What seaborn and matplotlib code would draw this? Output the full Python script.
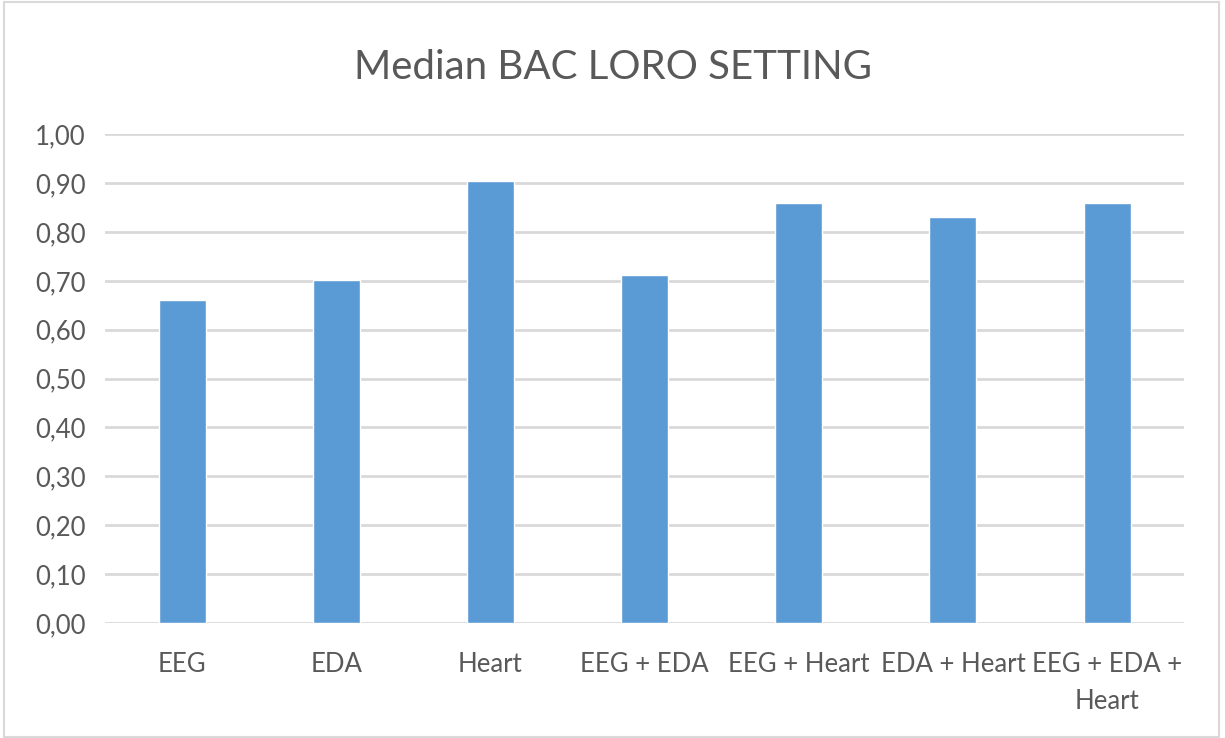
import numpy as np
import pandas as pd
import seaborn as sns
from matplotlib import pyplot as plt
from matplotlib.ticker import FuncFormatter
from matplotlib.patches import Rectangle

categories = ['EEG', 'EDA', 'Heart', 'EEG + EDA', 'EEG + Heart', 'EDA + Heart', 'EEG + EDA +\nHeart']
bac = [0.660, 0.702, 0.905, 0.712, 0.860, 0.830, 0.860]

df = pd.DataFrame({'setting': categories, 'bac': bac})

sns.set_style('white')
plt.rcParams['font.family'] = ['Lato', 'DejaVu Sans']
grey = '#595959'

f = plt.figure(figsize=(12.25, 7.38), dpi=100)
ax = f.add_axes([0.0857, 0.156, 0.881, 0.662])

sns.barplot(data=df, x='setting', y='bac', color='#5b9bd5', width=0.305,
            saturation=1, ax=ax, zorder=3)

ax.set_ylim(0, 1.0)
ax.set_yticks(np.arange(0, 1.01, 0.1))
ax.yaxis.set_major_formatter(FuncFormatter(lambda v, p: f'{v:.2f}'.replace('.', ',')))
ax.grid(axis='y', color='#d9d9d9', linewidth=2, zorder=0)
for s in ax.spines.values():
    s.set_visible(False)
ax.tick_params(axis='both', length=0, labelsize=18.5, labelcolor=grey)
ax.tick_params(axis='y', pad=14)
ax.tick_params(axis='x', pad=21)
for t in ax.get_xticklabels():
    t.set_linespacing(1.6)
ax.set_xlabel('')
ax.set_ylabel('')
ax.set_xlim(-0.5, len(categories) - 0.5)

f.text(0.5, 0.908, 'Median BAC LORO SETTING', ha='center', va='center',
       fontsize=29, color=grey)

f.patches.append(Rectangle((0.003, 0.002), 0.992, 0.995, transform=f.transFigure,
                           fill=False, edgecolor='#d9d9d9', linewidth=1.5))

f.savefig('out.png', dpi=100)
